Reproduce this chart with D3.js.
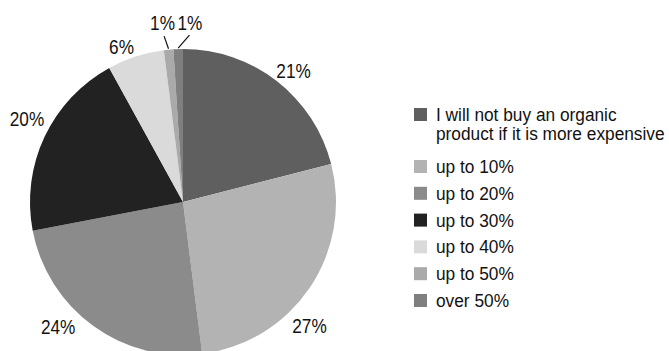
<!DOCTYPE html>
<html>
<head>
<meta charset="utf-8">
<script src="https://cdn.jsdelivr.net/npm/d3@7"></script>
<style>
  html, body { margin: 0; padding: 0; background: #fff; }
  svg { display: block; }
  text { font-family: "Liberation Sans", Arial, sans-serif; fill: #111; }
</style>
</head>
<body>
<svg id="chart" width="669" height="351"></svg>
<script>
// Willingness to pay extra for organic products (share of respondents, %)
const categories = [
  "I will not buy an organic product if it is more expensive",
  "up to 10%",
  "up to 20%",
  "up to 30%",
  "up to 40%",
  "up to 50%",
  "over 50%"
];
const shares = [21, 27, 24, 20, 6, 1, 1];
const legendLines = [
  ["I will not buy an organic", "product if it is more expensive"],
  ["up to 10%"], ["up to 20%"], ["up to 30%"], ["up to 40%"], ["up to 50%"], ["over 50%"]
];
const sliceColors = ["#5f5f5f", "#b3b3b3", "#8b8b8b", "#222222", "#dadada", "#aaaaaa", "#7f7f7f"];

const svg = d3.select("#chart");
const cx = 183, cy = 202, radius = 153;
// condensed lettering: regular face squeezed horizontally
const labelFont = 21, labelSqueeze = 0.82;
const legendFont = 19, legendSqueeze = 0.91;

const data = categories.map((c, i) => ({ name: c, value: shares[i], idx: i }));

const color = d3.scaleOrdinal().domain(categories).range(sliceColors);

const pie = d3.pie().value(d => d.value).sort(null).startAngle(0).endAngle(2 * Math.PI);
const arcs = pie(data);
const arc = d3.arc().innerRadius(0).outerRadius(radius);

const g = svg.append("g").attr("transform", `translate(${cx},${cy})`);

g.selectAll("path.slice")
  .data(arcs)
  .join("path")
  .attr("class", "slice")
  .attr("d", arc)
  .attr("fill", d => color(d.data.name));

// label placement: angular shift (degrees) and distance from the centre per slice
const labelLayout = [
  { shift: 2.2, dist: 172 },
  { shift: 10.2, dist: 177 },
  { shift: 9.2, dist: 176 },
  { shift: 3.0, dist: 177 },
  { shift: -3.6, dist: 167 },
  { shift: -1.1, dist: 181 },
  { shift: 4.0, dist: 180 }
];
const polar = (a, r) => [r * Math.sin(a), -r * Math.cos(a)];
const midAngle = d => (d.startAngle + d.endAngle) / 2;
const labelAngle = d => midAngle(d) + labelLayout[d.data.idx].shift * Math.PI / 180;
const labelPos = d => polar(labelAngle(d), labelLayout[d.data.idx].dist);

// leader lines for the thin slices
const thin = arcs.filter(d => d.data.value <= 1);
g.selectAll("line.leader")
  .data(thin)
  .join("line")
  .attr("class", "leader")
  .attr("x1", d => polar(midAngle(d), radius + 1)[0])
  .attr("y1", d => polar(midAngle(d), radius + 1)[1])
  .attr("x2", d => polar(labelAngle(d), 167)[0])
  .attr("y2", d => polar(labelAngle(d), 167)[1])
  .attr("stroke", "#111")
  .attr("stroke-width", 1.2);

g.selectAll("text.pct")
  .data(arcs)
  .join("text")
  .attr("class", "pct")
  .attr("transform", d => `translate(${labelPos(d)[0]},${labelPos(d)[1]}) scale(${labelSqueeze},1)`)
  .attr("dy", "0.36em")
  .attr("text-anchor", "middle")
  .style("font-size", labelFont + "px")
  .text(d => d3.format("d")(d.data.value) + "%");

// legend
const legendX = 414, textX = 436, box = 13;
const rowY = d3.scalePoint().domain(categories.slice(1)).range([173, 307]);
const rowsBase = categories.map((c, i) => i === 0 ? 121 : rowY(c));

const legend = svg.append("g").attr("class", "legend");
const items = legend.selectAll("g.item")
  .data(data)
  .join("g")
  .attr("class", "item")
  .attr("transform", d => `translate(0,${rowsBase[d.idx]})`);

items.append("rect")
  .attr("x", legendX)
  .attr("y", -box)
  .attr("width", box)
  .attr("height", box)
  .attr("fill", d => color(d.name));

items.append("text")
  .attr("transform", `translate(${textX},0) scale(${legendSqueeze},1)`)
  .style("font-size", legendFont + "px")
  .selectAll("tspan")
  .data(d => legendLines[d.idx])
  .join("tspan")
  .attr("x", 0)
  .attr("dy", (t, i) => i === 0 ? 0 : 18.6)
  .text(t => t);
</script>
</body>
</html>
